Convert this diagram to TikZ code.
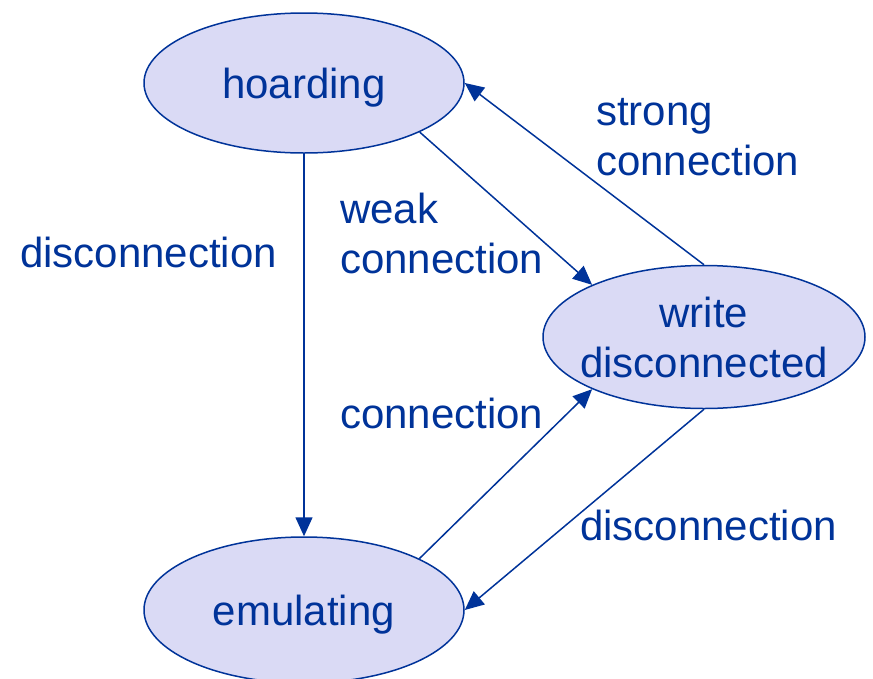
\documentclass[tikz,border=0pt]{standalone}
\usepackage{fontspec}
\setmainfont{Liberation Sans}
\usetikzlibrary{shapes.geometric,arrows.meta}
\definecolor{ink}{RGB}{0,51,153}
\definecolor{lav}{RGB}{218,218,245}
\begin{document}
\begin{tikzpicture}[x=1pt,y=-1pt,
  state/.style={ellipse,draw=ink,fill=lav,line width=1.5pt,minimum width=320pt,minimum height=140pt,inner sep=0pt,text depth=0pt,text=ink,align=center,font=\fontsize{42}{50}\selectfont},
  lbl/.style={text=ink,inner sep=0pt,align=left,font=\fontsize{42}{50}\selectfont},
  conn/.style={draw=ink,line width=1.5pt,-{Triangle[length=19pt,width=17pt]}}]
\useasboundingbox (0,0) rectangle (873,678);
\node[state] (hoard) at (304,83) {hoarding};
\node[state,minimum height=146pt] (emul) at (304,610) {emulating};
\node[state,minimum width=322pt,minimum height=143pt,inner xsep=-14pt] (write) at (704,337) {write\\disconnected};
\node[lbl,anchor=west] (l1) at (20,252) {disconnection};
\node[lbl,anchor=west] (l2) at (340,233) {weak\\connection};
\node[lbl,anchor=west] (l3) at (596,137) {strong\\connection};
\node[lbl,anchor=west] (l4) at (340,413) {connection};
\node[lbl,anchor=west] (l5) at (580,525) {disconnection};
\draw[conn] (hoard.-90) -- (emul.90);
\draw[conn] (hoard.-23) -- (write.155);
\draw[conn] (write.90) -- (hoard.0);
\draw[conn] (emul.24) -- (write.-155);
\draw[conn] (write.-90) -- (emul.0);
\end{tikzpicture}
\end{document}
